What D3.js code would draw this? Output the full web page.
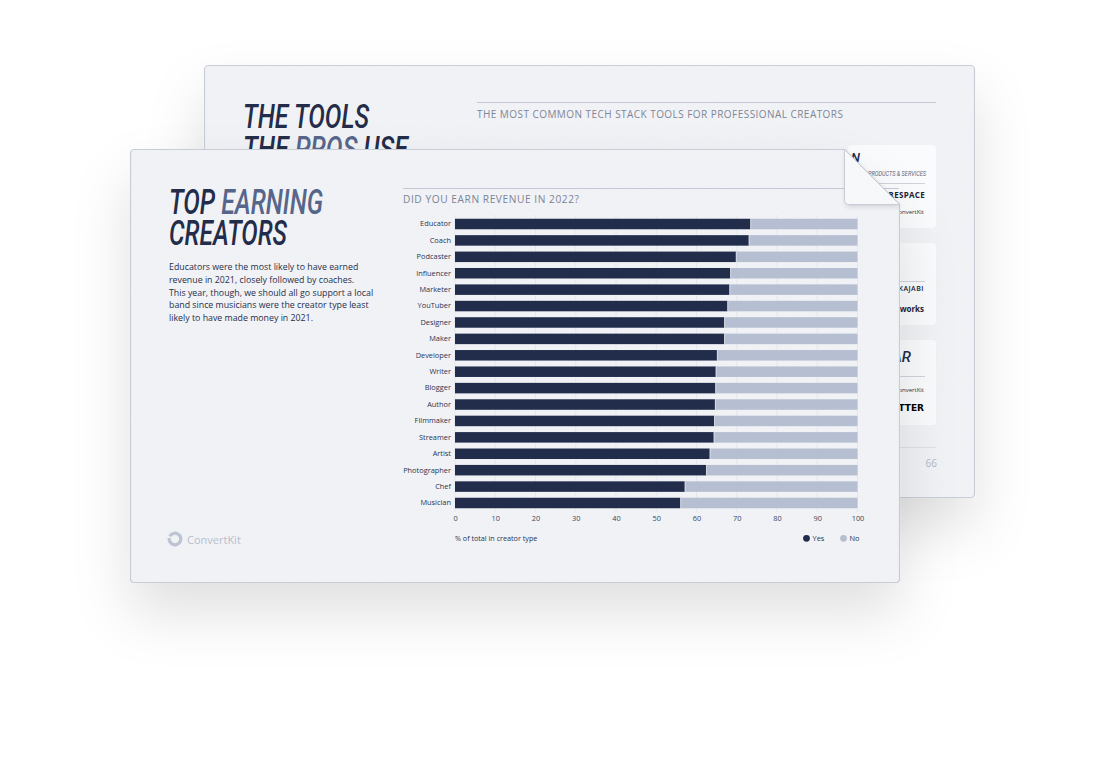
<!DOCTYPE html>
<html><head><meta charset="utf-8">
<script src="https://cdn.jsdelivr.net/npm/d3@7"></script>
<style>body{margin:0;background:#fff;} svg{display:block}</style>
</head><body><svg id="c" width="1102" height="764"></svg>
<script>
// ---------- DATA ----------
const categories = ["Educator","Coach","Podcaster","Influencer","Marketer","YouTuber","Designer","Maker","Developer","Writer","Blogger","Author","Filmmaker","Streamer","Artist","Photographer","Chef","Musician"];
const yesValues = [73.4,73.0,69.8,68.4,68.2,67.7,66.9,66.9,65.1,64.8,64.7,64.6,64.4,64.3,63.3,62.4,57.1,56.0];
const noValues = yesValues.map(v => 100 - v);
const xTicks = [0,10,20,30,40,50,60,70,80,90,100];
const seriesNames = ["Yes","No"];
const paragraphLines = [
  "Educators were the most likely to have earned",
  "revenue in 2021, closely followed by coaches.",
  "This year, though, we should all go support a local",
  "band since musicians were the creator type least",
  "likely to have made money in 2021."
];

const DARK = "#222d4c", LIGHT = "#b6bed1", INK = "#232c48";
const condensed = "Roboto,'Liberation Sans Narrow','DejaVu Sans Condensed',sans-serif";
const body = "'Open Sans','Noto Sans',sans-serif";

const svg = d3.select("#c");
const defs = svg.append("defs");

// shadows
const f1 = defs.append("filter").attr("id","shadowBig").attr("x","-30%").attr("y","-30%").attr("width","160%").attr("height","190%");
f1.append("feDropShadow").attr("dx",0).attr("dy",30).attr("stdDeviation",28).attr("flood-color","#000").attr("flood-opacity",0.12);
const f2 = defs.append("filter").attr("id","shadowSm").attr("x","-50%").attr("y","-50%").attr("width","200%").attr("height","200%");
f2.append("feDropShadow").attr("dx",1).attr("dy",2).attr("stdDeviation",2).attr("flood-color","#000").attr("flood-opacity",0.12);
// noise
const fn = defs.append("filter").attr("id","noise").attr("x",0).attr("y",0).attr("width","100%").attr("height","100%");
fn.append("feTurbulence").attr("type","fractalNoise").attr("baseFrequency",0.8).attr("numOctaves",2).attr("seed",3).attr("result","t");
fn.append("feColorMatrix").attr("in","t").attr("type","matrix")
  .attr("values","0 0 0 0 0.45  0 0 0 0 0.47  0 0 0 0 0.52  0 0 0 0.07 0");
fn.append("feComposite").attr("in2","SourceGraphic").attr("operator","in");

// ---------- BACK PAGE ----------
const back = svg.append("g");
back.append("rect").attr("x",204.5).attr("y",65.5).attr("width",770).attr("height",432).attr("rx",4)
  .attr("fill","#f3f4f7").attr("stroke","#c9cdd8").attr("stroke-width",1.2).attr("filter","url(#shadowBig)");
back.append("rect").attr("x",205).attr("y",66).attr("width",769).attr("height",431).attr("rx",4).attr("fill","#888").attr("filter","url(#noise)");

back.append("text").attr("x",243).attr("y",128).attr("font-family",condensed).attr("font-weight",500).attr("font-style","italic")
  .attr("font-size",34).attr("fill",INK).attr("textLength",126).attr("lengthAdjust","spacingAndGlyphs").text("THE TOOLS");
const t2 = back.append("text").attr("x",243).attr("y",160).attr("font-family",condensed).attr("font-weight",500).attr("font-style","italic")
  .attr("font-size",34).attr("fill",INK).attr("textLength",165).attr("lengthAdjust","spacingAndGlyphs");
t2.append("tspan").text("THE ");
t2.append("tspan").attr("fill","#56668a").text("PROS");
t2.append("tspan").text(" USE");

back.append("line").attr("x1",477).attr("x2",936).attr("y1",102.5).attr("y2",102.5).attr("stroke","#c3c8d4");
back.append("text").attr("x",477).attr("y",118).attr("font-family",body).attr("font-size",10).attr("letter-spacing",0.45)
  .attr("fill","#7d8699").text("THE MOST COMMON TECH STACK TOOLS FOR PROFESSIONAL CREATORS");

const cards = [[145,228],[243,325],[340,425]];
cards.forEach(([a,b]) => back.append("rect").attr("x",848).attr("y",a).attr("width",88).attr("height",b-a).attr("rx",4).attr("fill","#fafbfc"));
back.append("text").attr("x",851).attr("y",162).attr("font-family",condensed).attr("font-weight",500).attr("font-style","italic").attr("font-size",13).attr("fill",INK).text("N");
back.append("text").attr("x",926).attr("y",176).attr("text-anchor","end").attr("font-family",condensed).attr("font-style","italic").attr("font-size",7).attr("fill","#5d6782").attr("textLength",58).attr("lengthAdjust","spacingAndGlyphs").text("PRODUCTS & SERVICES");
back.append("line").attr("x1",862).attr("x2",925).attr("y1",183.5).attr("y2",183.5).attr("stroke","#cfd3dc");
back.append("text").attr("x",925).attr("y",198).attr("text-anchor","end").attr("font-family",body).attr("font-weight",700).attr("font-size",8).attr("letter-spacing",0.3).attr("fill","#1a2235").text("SQUARESPACE");
back.append("text").attr("x",924).attr("y",214).attr("text-anchor","end").attr("font-family",body).attr("font-size",6).attr("fill","#2a3245").text("ConvertKit");
back.append("line").attr("x1",862).attr("x2",925).attr("y1",281.5).attr("y2",281.5).attr("stroke","#cfd3dc");
back.append("text").attr("x",924).attr("y",291).attr("text-anchor","end").attr("font-family",body).attr("font-weight",600).attr("font-size",7).attr("letter-spacing",0.5).attr("fill","#1a2235").text("KAJABI");
back.append("text").attr("x",924).attr("y",312).attr("text-anchor","end").attr("font-family",body).attr("font-weight",700).attr("font-size",8).attr("fill","#1a2235").text("Networks");
back.append("text").attr("x",911).attr("y",362).attr("text-anchor","end").attr("font-family",condensed).attr("font-weight",500).attr("font-style","italic").attr("font-size",15).attr("fill",INK).text("AR");
back.append("line").attr("x1",862).attr("x2",925).attr("y1",376.5).attr("y2",376.5).attr("stroke","#cfd3dc");
back.append("text").attr("x",924).attr("y",392).attr("text-anchor","end").attr("font-family",body).attr("font-size",6).attr("fill","#2a3245").text("ConvertKit");
back.append("text").attr("x",924).attr("y",411).attr("text-anchor","end").attr("font-family","'DejaVu Sans',sans-serif").attr("font-weight",900).attr("font-size",9).attr("fill","#000").text("TWITTER");
back.append("line").attr("x1",850).attr("x2",936).attr("y1",447.5).attr("y2",447.5).attr("stroke","#dde0e6");
back.append("text").attr("x",937).attr("y",467).attr("text-anchor","end").attr("font-family",body).attr("font-size",10).attr("fill","#b3b8c4").text("66");

// ---------- FRONT PAGE ----------
const front = svg.append("g");
const L=130.5,T=149.5,R=899.5,B=582.5,FX=844.5,FY=204.5,r=4;
const cardPath = `M${L+r},${T} H${FX} L${R},${FY} V${B-r} Q${R},${B} ${R-r},${B} H${L+r} Q${L},${B} ${L},${B-r} V${T+r} Q${L},${T} ${L+r},${T} Z`;
front.append("path").attr("d",cardPath).attr("fill","#f3f4f7").attr("stroke","#c7ccd7").attr("stroke-width",1.2).attr("filter","url(#shadowBig)");
defs.append("clipPath").attr("id","cardClip").append("path").attr("d",cardPath);
front.append("rect").attr("x",L).attr("y",T).attr("width",R-L).attr("height",B-T).attr("fill","#888").attr("filter","url(#noise)").attr("clip-path","url(#cardClip)");

// title
const tt = front.append("text").attr("x",169).attr("y",214).attr("font-family",condensed).attr("font-weight",500).attr("font-style","italic")
  .attr("font-size",35).attr("fill",INK).attr("textLength",154).attr("lengthAdjust","spacingAndGlyphs");
tt.append("tspan").text("TOP ");
tt.append("tspan").attr("fill","#56668a").text("EARNING");
front.append("text").attr("x",169).attr("y",245).attr("font-family",condensed).attr("font-weight",500).attr("font-style","italic")
  .attr("font-size",35).attr("fill",INK).attr("textLength",118).attr("lengthAdjust","spacingAndGlyphs").text("CREATORS");

front.append("g").selectAll("text").data(paragraphLines).join("text")
  .attr("x",169).attr("y",(d,i)=>270+i*12.75).attr("font-family",body).attr("font-size",8.8).attr("fill","#262f4c").text(d=>d);

// chart title
front.append("line").attr("x1",403).attr("x2",899).attr("y1",188.5).attr("y2",188.5).attr("stroke","#c3c8d4");
front.append("text").attr("x",403).attr("y",203).attr("font-family",body).attr("font-size",10.2).attr("letter-spacing",0.55)
  .attr("fill","#7a8397").text("DID YOU EARN REVENUE IN 2022?");

// scales
const x = d3.scaleLinear().domain([0,100]).range([455,857.5]);
const y = d3.scaleBand().domain(categories).range([218.75,508.25]).paddingInner(0.36).paddingOuter(0);

// grid
front.append("g").selectAll("line").data(xTicks).join("line")
  .attr("x1",d=>x(d)).attr("x2",d=>x(d)).attr("y1",215).attr("y2",512)
  .attr("stroke","#e4e7ee").attr("stroke-width",1);

// bars
const rows = categories.map((c,i)=>({c, yes:yesValues[i], no:noValues[i]}));
const bars = front.append("g");
bars.selectAll("rect.no").data(rows).join("rect").attr("class","no")
  .attr("x",d=>x(d.yes)).attr("width",d=>x(d.yes+d.no)-x(d.yes)).attr("y",d=>y(d.c)).attr("height",y.bandwidth()).attr("fill",LIGHT);
bars.selectAll("rect.yes").data(rows).join("rect").attr("class","yes")
  .attr("x",x(0)).attr("width",d=>x(d.yes)-x(0)).attr("y",d=>y(d.c)).attr("height",y.bandwidth()).attr("fill",DARK);
bars.selectAll("line.sep").data(rows).join("line").attr("class","sep")
  .attr("x1",d=>x(d.yes)+0.3).attr("x2",d=>x(d.yes)+0.3).attr("y1",d=>y(d.c)).attr("y2",d=>y(d.c)+y.bandwidth())
  .attr("stroke","#e9ebf0").attr("stroke-width",0.7);

// y axis
const yAxis = front.append("g").attr("transform",`translate(${x(0)-4},0)`)
  .call(d3.axisLeft(y).tickSize(0).tickPadding(0));
yAxis.select(".domain").remove();
yAxis.selectAll("text").attr("font-family",body).attr("font-size",7.4).attr("fill","#2a3350");

// x axis
const xAxis = front.append("g").attr("transform",`translate(0,516)`)
  .call(d3.axisBottom(x).tickValues(xTicks).tickSize(0).tickPadding(0).tickFormat(d3.format("d")));
xAxis.select(".domain").remove();
xAxis.selectAll("text").attr("font-family",body).attr("font-size",7.4).attr("fill","#3a4460").attr("dy","0.71em");

front.append("text").attr("x",455).attr("y",541).attr("font-family",body).attr("font-size",7.2).attr("fill","#2a3350").text("% of total in creator type");

// legend
const legX = [806.5, 843.5];
const leg = front.append("g").selectAll("g").data(seriesNames).join("g").attr("transform",(d,i)=>`translate(${legX[i]},538.3)`);
leg.append("circle").attr("r",3.4).attr("fill",(d,i)=>i===0?DARK:LIGHT);
leg.append("text").attr("x",6).attr("y",2.6).attr("font-family",body).attr("font-size",7.4).attr("fill","#2a3350").text(d=>d);

// ConvertKit logo
const logo = front.append("g").attr("transform","translate(175,539)");
logo.append("path").attr("d",d3.arc()({innerRadius:4.2,outerRadius:7.4,startAngle:-0.35*Math.PI,endAngle:1.55*Math.PI})).attr("fill","#bcc3d2");
front.append("text").attr("x",187).attr("y",543.5).attr("font-family",body).attr("font-size",11).attr("fill","#b7becd").text("ConvertKit");

// page curl flap
front.append("path").attr("d",`M${FX},${T} L${R},${FY} H${FX+4} Q${FX},${FY} ${FX},${FY-4} Z`)
  .attr("fill","#f7f8fa").attr("stroke","#c7ccd7").attr("stroke-width",1).attr("filter","url(#shadowSm)");
</script></body></html>
